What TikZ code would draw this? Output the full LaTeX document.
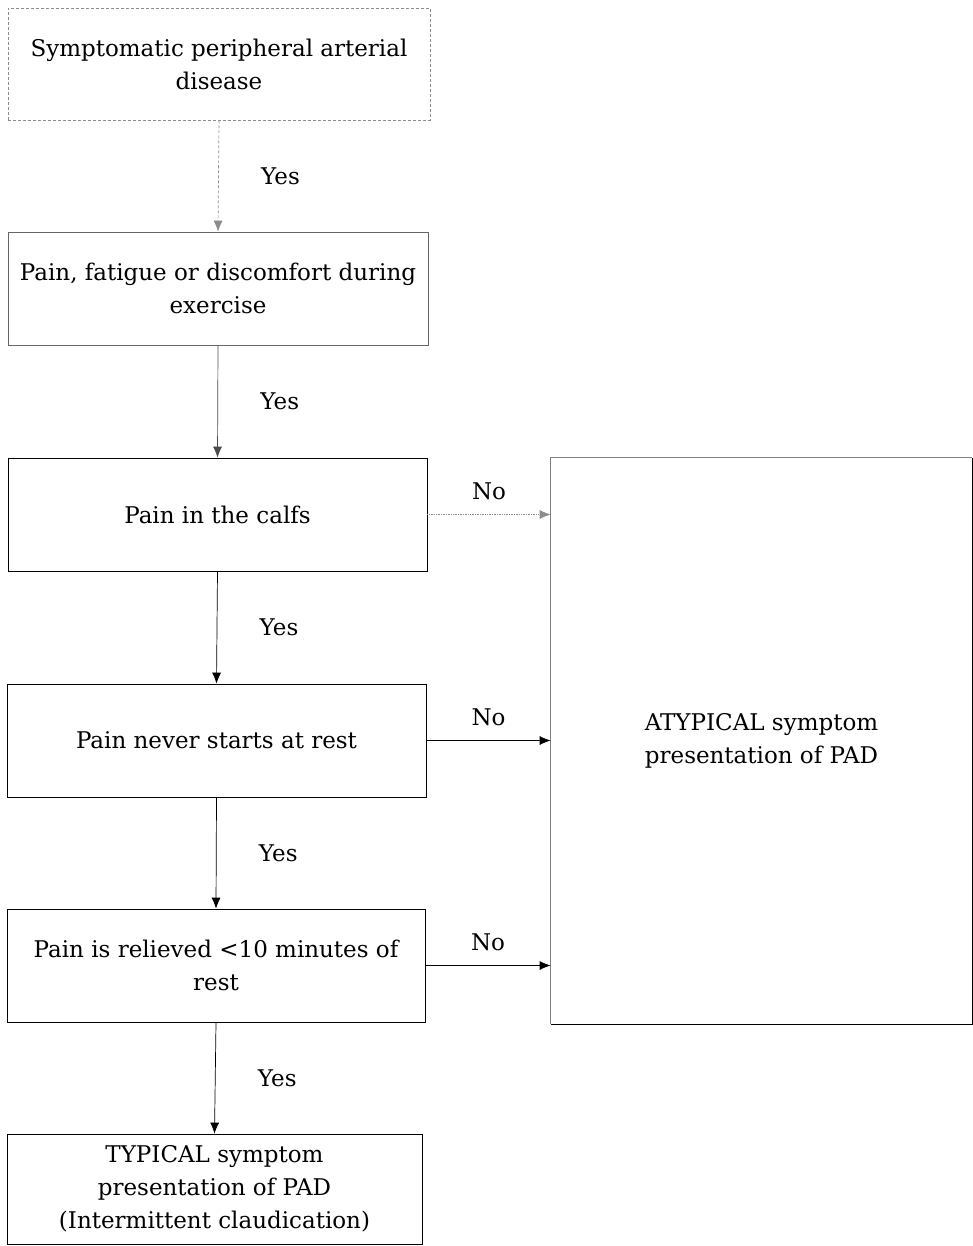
\documentclass[tikz,border=0pt]{standalone}
\usepackage{fontspec}
\setmainfont{DejaVu Serif}
\usetikzlibrary{arrows.meta}
\begin{document}
\begin{tikzpicture}[x=1pt,y=-1pt,
  stepbox/.style={draw=black,line width=0.7pt,align=center,inner sep=0pt,
    font=\fontsize{23}{33}\selectfont},
  faintbox/.style={stepbox,draw=black!45,densely dashed},
  flow/.style={draw=black,line width=0.7pt,-{Latex[length=11pt,width=9pt]}},
  faintflow/.style={flow,draw=black!45,densely dashed},
  lbl/.style={font=\fontsize{23}{30}\selectfont,inner sep=0pt}]
\useasboundingbox (0,0) rectangle (973,1246);

% left column of decision steps
\node[faintbox,minimum width=422pt,minimum height=112pt] (s1) at (219,64)
  {Symptomatic peripheral arterial\\disease};
\node[stepbox,draw=black!60,minimum width=420pt,minimum height=113pt] (s2) at (218,288.5)
  {Pain, fatigue or discomfort during\\exercise};
\node[stepbox,minimum width=419pt,minimum height=113pt] (s3) at (217.5,514.5)
  {Pain in the calfs};
\node[stepbox,minimum width=419pt,minimum height=113pt] (s4) at (216.5,740.5)
  {Pain never starts at rest};
\node[stepbox,minimum width=418pt,minimum height=113pt] (s5) at (216,965.5)
  {Pain is relieved <10 minutes of\\rest};
\node[stepbox,minimum width=415pt,minimum height=110pt] (s6) at (214.5,1189)
  {TYPICAL symptom\\presentation of PAD\\(Intermittent claudication)};

% outcome box on the right
\node[stepbox,draw=none,minimum width=421pt,minimum height=566pt] (atyp) at (761.5,741)
  {ATYPICAL symptom\\presentation of PAD};
\draw[line width=0.7pt,black!50] (atyp.south west) -- (atyp.north west) -- (atyp.north east);
\draw[line width=0.7pt] (atyp.north east) -- (atyp.south east) -- (atyp.south west);

% "Yes" connectors
\draw[faintflow] (s1.south) -- (s2.north) node[lbl,midway,xshift=62pt] {Yes};
\draw[flow,draw=black!70] (s2.south) -- (s3.north) node[lbl,midway,xshift=62pt] {Yes};
\draw[flow] (s3.south) -- (s4.north) node[lbl,midway,xshift=62pt] {Yes};
\draw[flow] (s4.south) -- (s5.north) node[lbl,midway,xshift=62pt] {Yes};
\draw[flow] (s5.south) -- (s6.north) node[lbl,midway,xshift=62pt] {Yes};

% "No" connectors
\coordinate (n3) at (atyp.west |- s3.east);
\coordinate (n4) at (atyp.west |- s4.east);
\coordinate (n5) at (atyp.west |- s5.east);
\draw[flow,draw=black!45,densely dotted] (s3.east) -- (n3) node[lbl,midway,yshift=23pt] {No};
\draw[flow] (s4.east) -- (n4) node[lbl,midway,yshift=23pt] {No};
\draw[flow] (s5.east) -- (n5) node[lbl,midway,yshift=23pt] {No};
\end{tikzpicture}
\end{document}
